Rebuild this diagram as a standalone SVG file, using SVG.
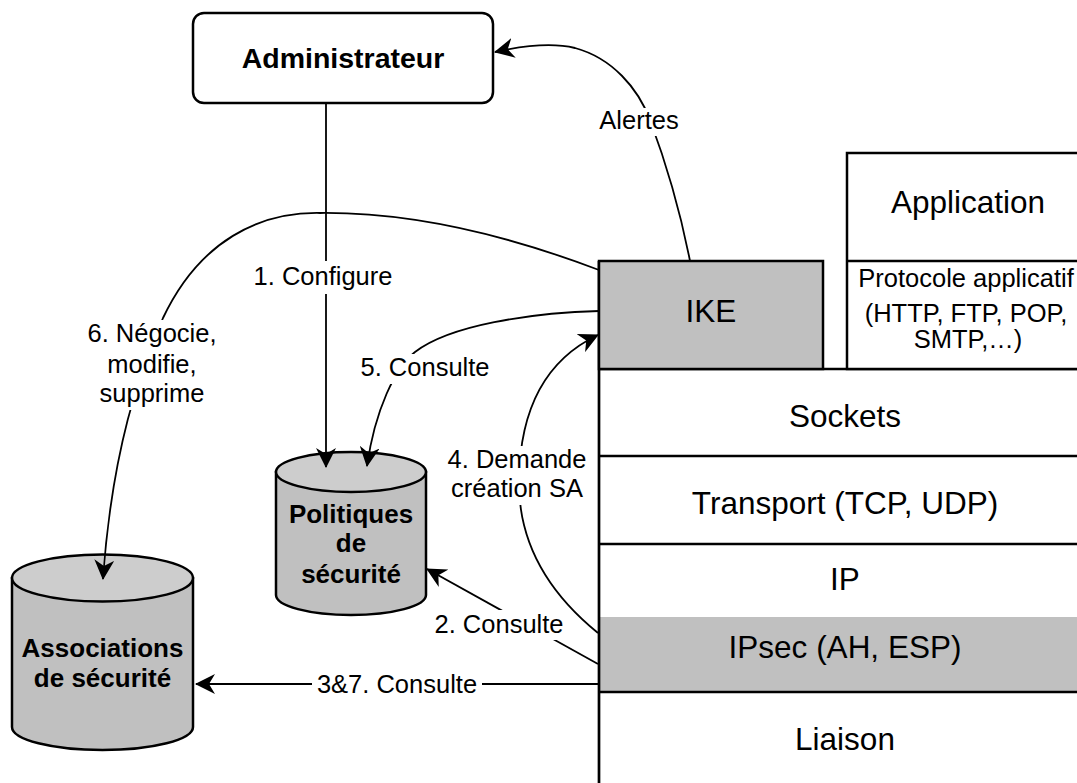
<svg xmlns="http://www.w3.org/2000/svg" width="1077" height="783" viewBox="0 0 1077 783">
<style>
text{font-family:"Liberation Sans",Arial,sans-serif;fill:#000}
.lbl{font-size:25.5px;text-anchor:middle}
.big{font-size:31.5px;text-anchor:middle}
.bold{font-weight:bold;text-anchor:middle}
.box{stroke:#000;stroke-width:2.5}
.ln{stroke:#000;stroke-width:2.7;fill:none}
.con{stroke:#000;stroke-width:1.8;fill:none}
.arr{marker-end:url(#ah)}
.bg{fill:#fff}
</style>
<defs>
<marker id="ah" markerUnits="userSpaceOnUse" viewBox="0 0 20 20" refX="19" refY="10" markerWidth="20" markerHeight="20" orient="auto">
<path d="M0,0 L20,10 L0,20 L6,10 Z" fill="#000"/>
</marker>
</defs>
<rect width="1077" height="783" fill="#fff"/>

<g id="stack">
<rect x="599" y="617" width="478" height="75" fill="#c0c0c0"/>
<line class="ln" x1="599" y1="369" x2="1077" y2="369"/>
<line class="ln" x1="599" y1="456" x2="1077" y2="456"/>
<line class="ln" x1="599" y1="544" x2="1077" y2="544"/>
<line class="ln" x1="599" y1="692" x2="1077" y2="692"/>
<line class="ln" x1="599" y1="261" x2="599" y2="783"/>
<text class="big" x="845" y="427">Sockets</text>
<text class="big" x="845" y="514">Transport (TCP, UDP)</text>
<text class="big" x="845" y="590">IP</text>
<text class="big" x="845" y="658">IPsec (AH, ESP)</text>
<text class="big" x="845" y="750">Liaison</text>
</g>

<g id="application">
<rect class="box" x="847" y="153" width="260" height="216" fill="#fff"/>
<line class="ln" x1="847" y1="261" x2="1077" y2="261"/>
<text class="big" x="968" y="213">Application</text>
<text class="lbl" x="966" y="287">Protocole applicatif</text>
<text class="lbl" x="966" y="322">(HTTP, FTP, POP,</text>
<text class="lbl" x="968" y="348">SMTP,…)</text>
</g>

<g id="ike">
<rect class="box" x="599" y="261" width="224" height="108" fill="#c0c0c0"/>
<text class="big" x="711" y="322">IKE</text>
</g>

<g id="administrateur">
<rect class="box" x="193" y="13" width="300" height="90" rx="11" fill="#fff"/>
<text class="bold" x="343" y="68" font-size="28.5">Administrateur</text>
</g>

<g id="politiques">
<path class="box" d="M276,472 L276,595 A75,20 0 0 0 426,595 L426,472 Z" fill="#c0c0c0"/>
<ellipse class="box" cx="351" cy="472" rx="75" ry="20" fill="#cdcdcd"/>
<text class="bold" x="351" y="523" font-size="26">Politiques</text>
<text class="bold" x="351" y="552" font-size="26">de</text>
<text class="bold" x="351" y="583" font-size="26">sécurité</text>
</g>

<g id="associations">
<path class="box" d="M12,578 L12,727 A90.5,23 0 0 0 193,727 L193,578 Z" fill="#c0c0c0"/>
<ellipse class="box" cx="102.5" cy="578" rx="90.5" ry="23.5" fill="#cdcdcd"/>
<text class="bold" x="102.5" y="657" font-size="26">Associations</text>
<text class="bold" x="102.5" y="687" font-size="26">de sécurité</text>
</g>

<g id="connectors">
<path class="con arr" d="M690,261 C680,210 665,160 650,120 C638,88 612,58 575,48 C550,42 522,46 495,52"/>
<path class="con arr" d="M326,103 L326,467"/>
<path class="con arr" d="M599,270 C520,240 420,212 320,213 C260,212 200,240 163,318 C140,370 112,450 103,579"/>
<path class="con arr" d="M599,311 C530,313 450,325 415,352 C395,368 375,410 367,466"/>
<path class="con arr" d="M598,633 C545,590 518,540 519,480 C520,410 545,360 598,335"/>
<path class="con arr" d="M598,664 L427,569"/>
<path class="con arr" d="M599,684 L196,684"/>

<rect class="bg" x="596" y="108" width="86" height="28"/>
<text class="lbl" x="639" y="129">Alertes</text>
<rect class="bg" x="251" y="261" width="144" height="33"/>
<text class="lbl" x="323" y="285">1. Configure</text>
<rect class="bg" x="85" y="320" width="134" height="90"/>
<text class="lbl" x="152" y="342">6. Négocie,</text>
<text class="lbl" x="152" y="373">modifie,</text>
<text class="lbl" x="152" y="402">supprime</text>
<rect class="bg" x="358" y="354" width="135" height="30"/>
<text class="lbl" x="425" y="376">5. Consulte</text>
<rect class="bg" x="445" y="446" width="145" height="59"/>
<text class="lbl" x="517" y="468">4. Demande</text>
<text class="lbl" x="517" y="497">création SA</text>
<rect class="bg" x="431" y="610" width="136" height="30"/>
<text class="lbl" x="499" y="633">2. Consulte</text>
<rect class="bg" x="312" y="671" width="170" height="26"/>
<text class="lbl" x="397" y="693">3&amp;7. Consulte</text>
</g>
</svg>
